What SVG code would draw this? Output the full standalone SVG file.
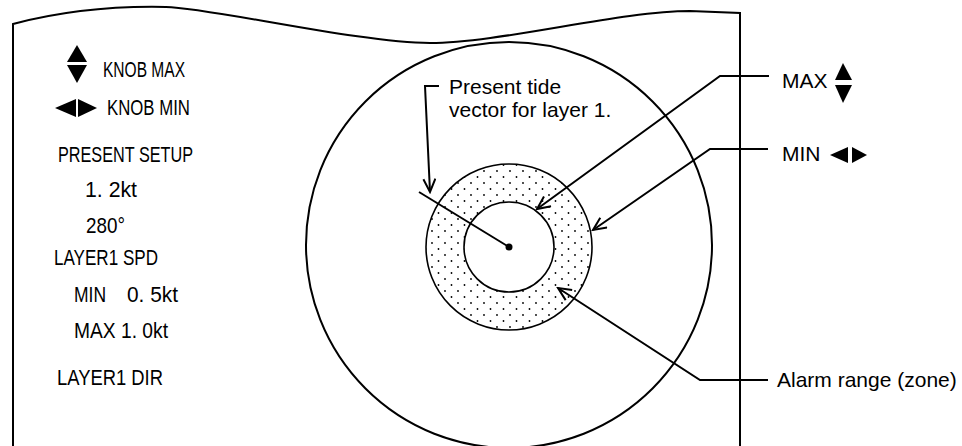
<svg xmlns="http://www.w3.org/2000/svg" width="962" height="446" viewBox="0 0 962 446">
<style>
.ln{fill:none;stroke:#000;stroke-width:2}
.th{fill:none;stroke:#000;stroke-width:1.6}
.lcd{font-family:"Liberation Sans",Arial,sans-serif;font-size:22px;fill:#000}
.lab{font-family:"Liberation Sans",Arial,sans-serif;font-size:21px;fill:#000}
.tri{fill:#000}
</style>
<defs>
<marker id="arr" viewBox="-14 -7 16 14" markerWidth="16" markerHeight="14" refX="0" refY="0" orient="auto" markerUnits="userSpaceOnUse">
<path d="M-13,-6 L0,0 L-13,6" fill="none" stroke="#000" stroke-width="2"/>
</marker>
<pattern id="dots" width="13" height="12" patternUnits="userSpaceOnUse">
<circle cx="3" cy="3" r="0.9" fill="#000"/>
<circle cx="9.5" cy="9" r="0.9" fill="#000"/>
</pattern>
</defs>
<rect width="962" height="446" fill="#fff"/>
<g id="frame">
<path class="ln" d="M13,446 L13,24 C70,9 120,6 166,7 S360,43 430,43 S620,11 690,11 L740,13 L740,446"/>
</g>
<g id="display">
<circle class="ln" cx="509" cy="245" r="203"/>
<path d="M426,247 a83,83 0 1,0 166,0 a83,83 0 1,0 -166,0 Z M464,247 a45,45 0 1,0 90,0 a45,45 0 1,0 -90,0 Z" fill="url(#dots)" fill-rule="evenodd"/>
<circle class="th" cx="509" cy="247" r="83"/>
<circle class="th" cx="509" cy="247" r="45"/>
<line class="ln" x1="419" y1="192" x2="509" y2="247"/>
<circle cx="509" cy="247" r="3.5" fill="#000"/>
</g>
<g id="legend">
<polygon class="tri" points="77,45 67,62 87,62"/>
<polygon class="tri" points="67,65 87,65 77,83"/>
<text class="lcd" x="103" y="77" textLength="82" lengthAdjust="spacingAndGlyphs">KNOB MAX</text>
<polygon class="tri" points="55,108 76,99 76,117"/>
<polygon class="tri" points="78,99 78,117 97,108"/>
<text class="lcd" x="107" y="115" textLength="83" lengthAdjust="spacingAndGlyphs">KNOB MIN</text>
<text class="lcd" x="58" y="162" textLength="135" lengthAdjust="spacingAndGlyphs">PRESENT SETUP</text>
<text class="lcd" x="85" y="197" textLength="52" lengthAdjust="spacingAndGlyphs">1. 2kt</text>
<text class="lcd" x="86" y="233" textLength="39" lengthAdjust="spacingAndGlyphs">280°</text>
<text class="lcd" x="54" y="265" textLength="104" lengthAdjust="spacingAndGlyphs">LAYER1 SPD</text>
<text class="lcd" y="302"><tspan x="74" textLength="32" lengthAdjust="spacingAndGlyphs">MIN</tspan><tspan x="127" textLength="51" lengthAdjust="spacingAndGlyphs">0. 5kt</tspan></text>
<text class="lcd" x="74" y="338" textLength="94" lengthAdjust="spacingAndGlyphs">MAX 1. 0kt</text>
<text class="lcd" x="57" y="385" textLength="106" lengthAdjust="spacingAndGlyphs">LAYER1 DIR</text>
</g>
<g id="label-tide">
<text class="lab" x="449" y="94">Present tide</text>
<text class="lab" x="449" y="117">vector for layer 1.</text>
</g>
<g id="label-max">
<text class="lab" x="782" y="88">MAX</text>
<polygon class="tri" points="843,63 835,80 852,80"/>
<polygon class="tri" points="835,85 852,85 843,103"/>
</g>
<g id="label-min">
<text class="lab" x="782" y="161">MIN</text>
<polygon class="tri" points="830,155 848,147 848,163"/>
<polygon class="tri" points="852,147 852,163 867,155"/>
</g>
<g id="label-alarm">
<text class="lab" x="777" y="387">Alarm range (zone)</text>
</g>
<g id="connectors">
<polyline class="ln" points="439,86 425,86 430,192" marker-end="url(#arr)"/>
<polyline class="ln" points="769,76 720,76 537,209" marker-end="url(#arr)"/>
<polyline class="ln" points="768,149 710,149 593,230" marker-end="url(#arr)"/>
<polyline class="ln" points="768,380 700,380 558,288" marker-end="url(#arr)"/>
</g>
</svg>
